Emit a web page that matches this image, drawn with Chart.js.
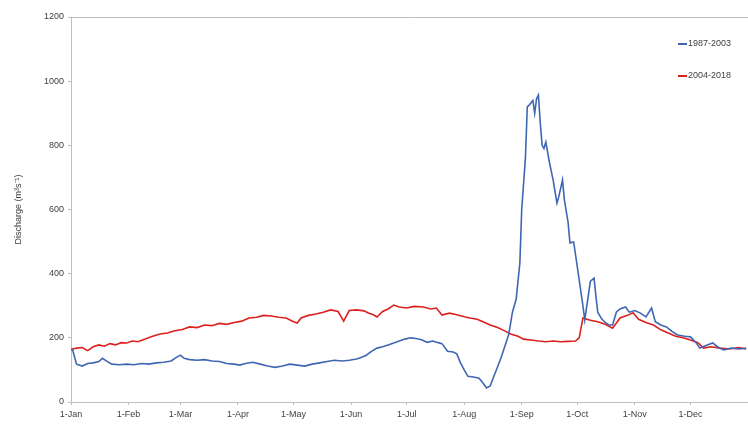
<!DOCTYPE html>
<html>
<head>
<meta charset="utf-8">
<script src="https://cdn.jsdelivr.net/npm/chart.js@4"></script>
<style>
  html, body { margin: 0; padding: 0; background: #fff; }
  #wrap { width: 748px; height: 424px; }
</style>
</head>
<body>
<div id="wrap"><canvas id="flowChart" width="748" height="424"></canvas></div>
<script>
// month starts (day of year) and their tick labels
const monthDays = [0, 31, 59, 90, 120, 151, 181, 212, 243, 273, 304, 334];
const monthLabels = ['1-Jan', '1-Feb', '1-Mar', '1-Apr', '1-May', '1-Jun', '1-Jul', '1-Aug', '1-Sep', '1-Oct', '1-Nov', '1-Dec'];

// 1987-2003 mean daily discharge
const blueDays = [0, 1, 3, 6, 9, 12, 15, 17, 19, 22, 26, 30, 34, 38, 42, 46, 50, 54, 57, 59, 61, 64, 68, 72, 76, 80, 84, 88, 91, 94, 98,
  102, 106, 110, 114, 118, 122, 126, 130, 134, 138, 142, 146, 150, 154, 156, 159, 162, 165, 168, 171, 174, 177, 180, 183, 186, 189, 192, 195, 198,
  200, 203, 206, 208, 210, 212, 214, 217, 220, 222, 224, 226, 228, 230, 232, 234, 236, 238, 240, 242, 243, 245, 246, 247, 249, 250, 251, 252, 253, 254, 255, 256, 258,
  260, 262, 263, 265, 266, 268, 269, 271, 273, 274, 276, 277, 278, 280, 282, 283, 284, 286, 288, 290, 292, 294, 296, 299,
  301, 304, 307, 310, 313, 315, 318, 321, 324, 327, 331, 334, 337, 339, 342, 346, 349, 352, 356, 360, 364];
const blueFlow = [165, 160, 118, 112, 120, 122, 126, 136, 128, 118, 116, 118, 116, 120, 118, 122, 124, 128, 140, 146, 136, 132, 130, 132, 128, 126, 120, 118, 115, 120, 124,
  118, 112, 108, 112, 118, 115, 112, 118, 122, 126, 130, 128, 130, 134, 138, 145, 158, 168, 172, 178, 184, 190, 196, 200, 198, 194, 186, 190, 185,
  182, 158, 156, 150, 122, 100, 80, 78, 74, 60, 44, 50, 80, 110, 140, 175, 210, 280, 320, 433, 600, 760, 920, 925, 940, 900, 945, 957, 870, 800, 790, 810, 745,
  690, 620, 640, 692, 630, 560, 496, 499, 420, 380, 300, 256, 296, 376, 386, 330, 280, 260, 248, 240, 240, 280, 290, 296,
  280, 285, 277, 265, 293, 250, 240, 234, 220, 209, 205, 203, 185, 168, 175, 184, 170, 162, 168, 165, 168];

// 2004-2018 mean daily discharge
const redDays = [0, 3, 6, 9, 12, 15, 18, 21, 24, 27, 30, 33, 36, 40, 44, 48, 52, 56, 60, 64, 68, 72, 76, 80, 84, 88, 92, 96,
  100, 104, 108, 112, 116, 120, 122, 124, 128, 132, 136, 140, 144, 147, 150, 154, 158, 160, 163, 165, 168, 171, 174, 177, 181, 185, 190, 194, 197,
  200, 204, 208, 212, 215, 219, 223, 226, 230, 233, 237, 241, 244, 248, 252, 256, 260, 264, 268, 272, 274, 276, 280, 284, 288, 292, 296,
  300, 303, 306, 310, 314, 318, 322, 326, 330, 334, 338, 341, 345, 350, 355, 360, 364];
const redFlow = [163, 168, 170, 160, 172, 178, 174, 182, 178, 185, 184, 190, 188, 196, 205, 212, 215, 222, 226, 234, 232, 240, 238, 245, 242, 248, 252, 262,
  264, 270, 268, 264, 262, 250, 246, 262, 270, 274, 280, 287, 282, 252, 285, 287, 284, 278, 272, 265, 282, 290, 302, 296, 293, 298, 296, 290, 293,
  271, 277, 272, 266, 262, 258, 248, 240, 232, 224, 212, 205, 196, 193, 190, 188, 190, 188, 189, 190, 200, 262, 255, 250, 242, 230, 262,
  270, 278, 258, 248, 240, 225, 215, 205, 200, 193, 185, 168, 172, 168, 165, 170, 165];

const toPoints = (xs, ys) => xs.map((d, i) => ({ x: d, y: ys[i] }));

const axisGrey = '#bfbfbf';
const textGrey = '#404040';
const fontFamily = '"Liberation Sans", Arial, sans-serif';

const frame = {
  id: 'frame',
  afterDraw(chart) {
    const { ctx, chartArea: a } = chart;
    ctx.save();
    ctx.strokeStyle = axisGrey;
    ctx.lineWidth = 1;
    ctx.beginPath();
    ctx.moveTo(a.left, a.top + 0.5);
    ctx.lineTo(a.right, a.top + 0.5);
    ctx.stroke();

    // legend inside the plot, top right
    ctx.font = '9px ' + fontFamily;
    ctx.textBaseline = 'middle';
    chart.data.datasets.forEach((ds, i) => {
      const y = 44 + i * 32;
      ctx.strokeStyle = ds.borderColor;
      ctx.lineWidth = 2;
      ctx.beginPath();
      ctx.moveTo(678, y);
      ctx.lineTo(687, y);
      ctx.stroke();
      ctx.fillStyle = textGrey;
      ctx.fillText(ds.label, 688, y);
    });
    ctx.restore();
  }
};

new Chart(document.getElementById('flowChart'), {
  type: 'line',
  data: {
    datasets: [{
      label: '1987-2003',
      data: toPoints(blueDays, blueFlow),
      borderColor: '#3f66b3',
      borderWidth: 1.6,
      pointRadius: 0,
      tension: 0
    }, {
      label: '2004-2018',
      data: toPoints(redDays, redFlow),
      borderColor: '#dc2020',
      borderWidth: 1.6,
      pointRadius: 0,
      tension: 0
    }]
  },
  options: {
    responsive: false,
    animation: false,
    layout: { padding: { top: 17, right: 0, left: 0, bottom: 0 } },
    plugins: {
      legend: { display: false },
      tooltip: { enabled: false }
    },
    scales: {
      x: {
        type: 'linear',
        min: 0,
        max: 365,
        afterBuildTicks: axis => { axis.ticks = monthDays.map(v => ({ value: v })); },
        afterFit: axis => { axis.height = 22; },
        ticks: {
          autoSkip: false,
          maxRotation: 0,
          padding: 4,
          color: textGrey,
          font: { family: fontFamily, size: 9 },
          callback: v => monthLabels[monthDays.indexOf(v)]
        },
        grid: { drawOnChartArea: false, drawTicks: true, tickLength: 3, color: axisGrey },
        border: { color: axisGrey }
      },
      y: {
        min: 0,
        max: 1200,
        afterFit: axis => { axis.width = 71; },
        ticks: {
          stepSize: 200,
          padding: 4,
          color: textGrey,
          font: { family: fontFamily, size: 9 },
          callback: v => String(v)
        },
        title: {
          display: true,
          text: 'Discharge (m³s⁻¹)',
          color: textGrey,
          padding: { top: 13, bottom: 0 },
          font: { family: fontFamily, size: 9 }
        },
        grid: { drawOnChartArea: false, drawTicks: true, tickLength: 3, color: axisGrey },
        border: { color: axisGrey }
      }
    }
  },
  plugins: [frame]
});
</script>
</body>
</html>
